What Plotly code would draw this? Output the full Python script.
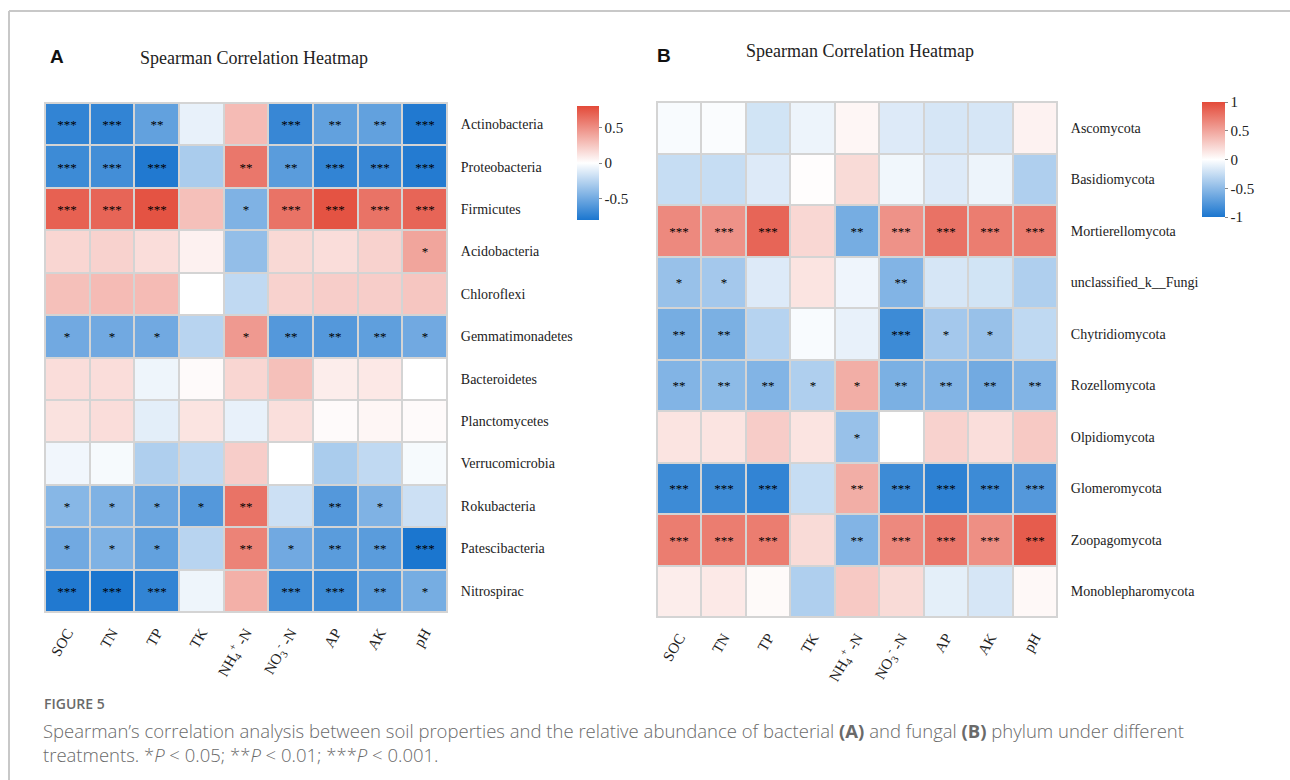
import plotly.graph_objects as go

# ---------------- data ----------------
soil_props = ["SOC", "TN", "TP", "TK", "NH<sub>4</sub><sup>+</sup> -N",
              "NO<sub>3</sub><sup>-</sup> -N", "AP", "AK", "pH"]

bact_phyla = ["Actinobacteria", "Proteobacteria", "Firmicutes", "Acidobacteria",
              "Chloroflexi", "Gemmatimonadetes", "Bacteroidetes", "Planctomycetes",
              "Verrucomicrobia", "Rokubacteria", "Patescibacteria", "Nitrospirac"]

bact_r = [
    [-0.72, -0.72, -0.55, -0.08, 0.30, -0.70, -0.55, -0.55, -0.78],
    [-0.68, -0.66, -0.78, -0.30, 0.60, -0.58, -0.72, -0.70, -0.77],
    [0.70, 0.68, 0.76, 0.28, -0.45, 0.62, 0.76, 0.62, 0.68],
    [0.18, 0.20, 0.15, 0.06, -0.38, 0.17, 0.15, 0.20, 0.40],
    [0.28, 0.30, 0.30, 0.00, -0.22, 0.20, 0.22, 0.22, 0.25],
    [-0.50, -0.50, -0.50, -0.25, 0.45, -0.60, -0.60, -0.56, -0.50],
    [0.15, 0.15, -0.06, 0.02, 0.18, 0.28, 0.08, 0.10, 0.00],
    [0.13, 0.15, -0.10, 0.12, -0.08, 0.14, 0.02, 0.04, 0.02],
    [-0.05, -0.03, -0.28, -0.22, 0.22, 0.00, -0.30, -0.22, -0.03],
    [-0.42, -0.45, -0.52, -0.60, 0.62, -0.18, -0.60, -0.45, -0.18],
    [-0.50, -0.45, -0.55, -0.25, 0.55, -0.50, -0.58, -0.58, -0.80],
    [-0.78, -0.80, -0.72, -0.06, 0.35, -0.68, -0.68, -0.58, -0.48],
]
bact_sig = [
    ["***", "***", "**", "", "", "***", "**", "**", "***"],
    ["***", "***", "***", "", "**", "**", "***", "***", "***"],
    ["***", "***", "***", "", "*", "***", "***", "***", "***"],
    ["", "", "", "", "", "", "", "", "*"],
    ["", "", "", "", "", "", "", "", ""],
    ["*", "*", "*", "", "*", "**", "**", "**", "*"],
    ["", "", "", "", "", "", "", "", ""],
    ["", "", "", "", "", "", "", "", ""],
    ["", "", "", "", "", "", "", "", ""],
    ["*", "*", "*", "*", "**", "", "**", "*", ""],
    ["*", "*", "*", "", "**", "*", "**", "**", "***"],
    ["***", "***", "***", "", "", "***", "***", "**", "*"],
]

fung_phyla = ["Ascomycota", "Basidiomycota", "Mortierellomycota", "unclassified_k__Fungi",
              "Chytridiomycota", "Rozellomycota", "Olpidiomycota", "Glomeromycota",
              "Zoopagomycota", "Monoblepharomycota"]

fung_r = [
    [-0.03, -0.02, -0.20, -0.08, 0.05, -0.15, -0.18, -0.18, 0.07],
    [-0.25, -0.25, -0.15, 0.01, 0.20, -0.06, -0.15, -0.08, -0.35],
    [0.65, 0.60, 0.85, 0.22, -0.60, 0.60, 0.78, 0.72, 0.72],
    [-0.45, -0.40, -0.15, 0.15, -0.07, -0.55, -0.18, -0.20, -0.35],
    [-0.60, -0.58, -0.32, -0.03, -0.10, -0.85, -0.40, -0.45, -0.28],
    [-0.55, -0.50, -0.55, -0.35, 0.45, -0.58, -0.55, -0.62, -0.55],
    [0.15, 0.15, 0.28, 0.15, -0.45, 0.00, 0.25, 0.18, 0.30],
    [-0.85, -0.85, -0.90, -0.25, 0.45, -0.85, -0.92, -0.85, -0.75],
    [0.72, 0.72, 0.72, 0.20, -0.55, 0.65, 0.75, 0.62, 0.90],
    [0.10, 0.12, 0.03, -0.35, 0.30, 0.20, -0.12, -0.18, 0.04],
]
fung_sig = [
    ["", "", "", "", "", "", "", "", ""],
    ["", "", "", "", "", "", "", "", ""],
    ["***", "***", "***", "", "**", "***", "***", "***", "***"],
    ["*", "*", "", "", "", "**", "", "", ""],
    ["**", "**", "", "", "", "***", "*", "*", ""],
    ["**", "**", "**", "*", "*", "**", "**", "**", "**"],
    ["", "", "", "", "*", "", "", "", ""],
    ["***", "***", "***", "", "**", "***", "***", "***", "***"],
    ["***", "***", "***", "", "**", "***", "***", "***", "***"],
    ["", "", "", "", "", "", "", "", ""],
]

cbar_a_ticks = [-0.5, 0, 0.5]
cbar_b_ticks = [-1, -0.5, 0, 0.5, 1]

# ---------------- styling ----------------
W, H = 1290, 780
SERIF = "Liberation Serif, Times New Roman, serif"
SANS = "Open Sans, Noto Sans, sans-serif"
colorscale = [[0.0, "#1B76CF"], [0.5, "#FFFFFF"], [1.0, "#E34A39"]]
GRID = "#d4d4d4"


def px_x(v):
    return v / W


def px_y(v):
    return 1 - v / H


fig = go.Figure()

fig.add_trace(go.Heatmap(
    z=bact_r, x=soil_props, y=bact_phyla, text=bact_sig,
    texttemplate="%{text}", textfont=dict(size=13, color="#000", family=SERIF),
    colorscale=colorscale, zmin=-0.8, zmax=0.8, xgap=2, ygap=2,
    xaxis="x", yaxis="y", hoverinfo="skip",
    colorbar=dict(
        x=px_x(577), xanchor="left", y=px_y(106), yanchor="top",
        lenmode="pixels", len=114, thicknessmode="pixels", thickness=22,
        outlinewidth=0, tickvals=cbar_a_ticks, ticktext=["-0.5", "0", "0.5"],
        ticks="outside", ticklen=3, tickcolor="#888",
        tickfont=dict(family=SERIF, size=15, color="#222"), xpad=0, ypad=0,
    ),
))

fig.add_trace(go.Heatmap(
    z=fung_r, x=soil_props, y=fung_phyla, text=fung_sig,
    texttemplate="%{text}", textfont=dict(size=13, color="#000", family=SERIF),
    colorscale=colorscale, zmin=-1, zmax=1, xgap=2, ygap=2,
    xaxis="x2", yaxis="y2", hoverinfo="skip",
    colorbar=dict(
        x=px_x(1202), xanchor="left", y=px_y(102), yanchor="top",
        lenmode="pixels", len=115, thicknessmode="pixels", thickness=23,
        outlinewidth=0, tickvals=cbar_b_ticks, ticktext=["-1", "-0.5", "0", "0.5", "1"],
        ticks="outside", ticklen=3, tickcolor="#888",
        tickfont=dict(family=SERIF, size=15, color="#222"), xpad=0, ypad=0,
    ),
))

xax_common = dict(
    tickangle=-60, tickfont=dict(family=SERIF, size=15, color="#222"),
    showgrid=False, zeroline=False, ticks="", showline=True, mirror=True,
    linecolor=GRID, linewidth=1, ticklabelstandoff=5,
)
yax_common = dict(
    side="right", autorange="reversed",
    tickfont=dict(family=SERIF, size=14, color="#222"),
    showgrid=False, zeroline=False, ticks="", showline=True, mirror=True,
    linecolor=GRID, linewidth=1, ticklabelstandoff=10,
)

fig.update_layout(
    width=W, height=H, margin=dict(l=0, r=0, t=0, b=0),
    paper_bgcolor="white", plot_bgcolor=GRID,
    xaxis=dict(domain=[px_x(45), px_x(447)], anchor="y", **xax_common),
    yaxis=dict(domain=[px_y(612), px_y(103)], anchor="x", **yax_common),
    xaxis2=dict(domain=[px_x(657), px_x(1057)], anchor="y2", **xax_common),
    yaxis2=dict(domain=[px_y(617), px_y(102)], anchor="x2", **yax_common),
    showlegend=False,
)

annotations = [
    dict(x=px_x(48), y=px_y(57), text="<b>A</b>", xanchor="left", yanchor="middle",
         font=dict(family="Liberation Sans, Arial, sans-serif", size=19, color="#111")),
    dict(x=px_x(655), y=px_y(56), text="<b>B</b>", xanchor="left", yanchor="middle",
         font=dict(family="Liberation Sans, Arial, sans-serif", size=19, color="#111")),
    dict(x=px_x(254), y=px_y(58), text="Spearman Correlation Heatmap", xanchor="center",
         yanchor="middle", font=dict(family=SERIF, size=18, color="#222")),
    dict(x=px_x(860), y=px_y(51), text="Spearman Correlation Heatmap", xanchor="center",
         yanchor="middle", font=dict(family=SERIF, size=18, color="#222")),
    dict(x=px_x(42), y=px_y(703), text="FIGURE 5", xanchor="left", yanchor="middle",
         font=dict(family=SANS, size=14, color="#6a6a6a", weight=600)),
    dict(x=px_x(41), y=px_y(742),
         text="Spearman’s correlation analysis between soil properties and the relative "
              "abundance of bacterial <b>(A)</b> and fungal <b>(B)</b> phylum under different"
              "<br>treatments. *<i>P</i> &lt; 0.05; **<i>P</i> &lt; 0.01; ***<i>P</i> &lt; 0.001.",
         xanchor="left", yanchor="middle", align="left",
         font=dict(family=SANS, size=18.5, color="#6a6a6a", weight=300)),
]
for a in annotations:
    a.update(xref="paper", yref="paper", showarrow=False)
fig.update_layout(annotations=annotations)

fig.update_layout(shapes=[
    dict(type="line", xref="paper", yref="paper", x0=px_x(9), x1=1, y0=px_y(11), y1=px_y(11),
         line=dict(color="#c8c8c8", width=2)),
    dict(type="line", xref="paper", yref="paper", x0=px_x(9), x1=px_x(9), y0=px_y(11), y1=0,
         line=dict(color="#c8c8c8", width=2)),
])

fig.write_html("out.html")
